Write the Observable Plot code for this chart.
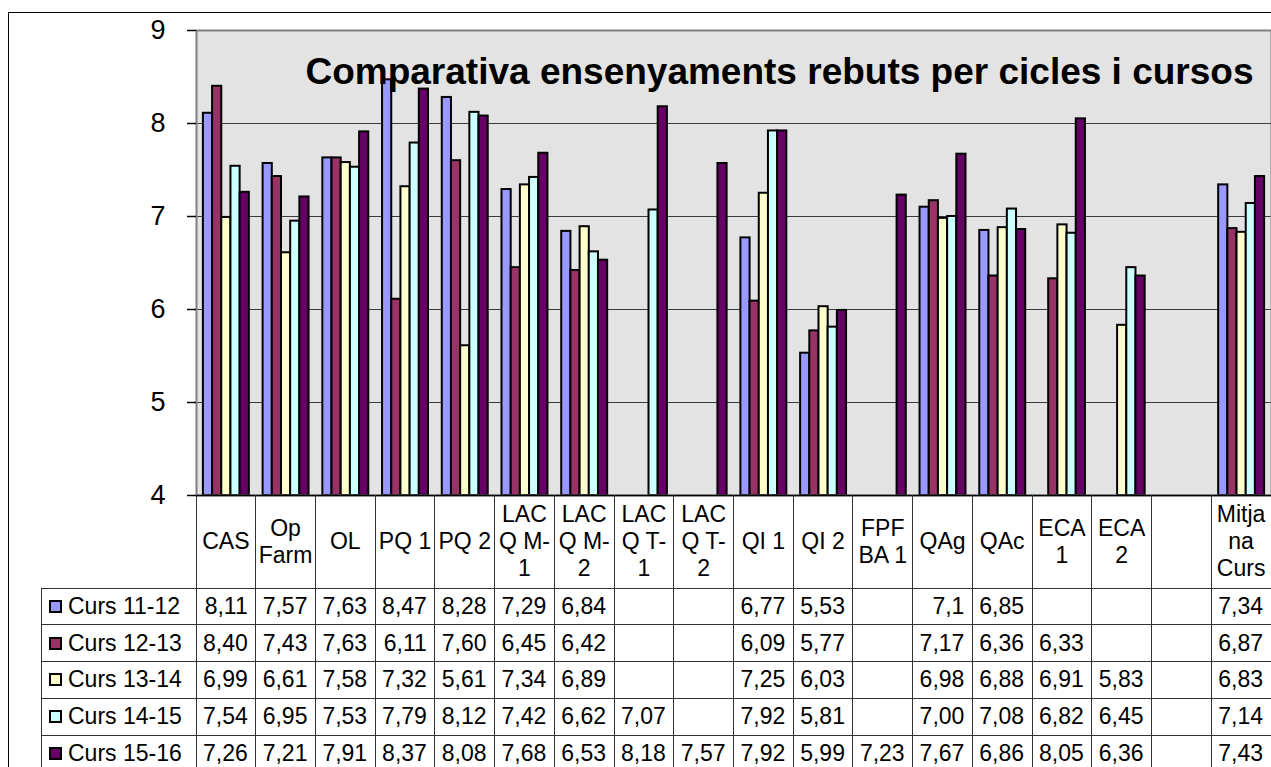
<!DOCTYPE html>
<html>
<head>
<meta charset="utf-8">
<script src="https://cdn.jsdelivr.net/npm/d3@7"></script>
<script src="https://cdn.jsdelivr.net/npm/@observablehq/plot@0.6"></script>
<style>
  html, body { margin: 0; padding: 0; background: #fff; }
  body { font-family: Arial, "Liberation Sans", sans-serif; }
  #wrap { position: relative; width: 1271px; height: 767px; overflow: hidden; }
  #border { position: absolute; left: 8px; top: 12px; width: 1400px; height: 900px;
            border-left: 1px solid #000; border-top: 1px solid #000; }
  #chart { position: absolute; left: 0; top: 0; }
  .ln { position: absolute; background: #333; }
  .cell { position: absolute; display: flex; font-size: 23px; color: #000; box-sizing: border-box; white-space: nowrap; }
  .hdr { align-items: center; justify-content: center; text-align: center; white-space: pre-line; line-height: 27px; }
  .val { align-items: center; justify-content: flex-end; padding-right: 8px; }
  .lab { align-items: center; justify-content: flex-start; padding-left: 8px; }
  .sw { display: inline-block; width: 9px; height: 9px; border: 2px solid #000; margin-right: 6px; }
</style>
</head>
<body>
<div id="wrap">
  <div id="border"></div>
  <div id="chart"></div>
  <div id="table"></div>
</div>
<script>
// ---- data ----
const categories = ["CAS", "Op Farm", "OL", "PQ 1", "PQ 2", "LACQ M-1", "LACQ M-2", "LACQ T-1", "LACQ T-2",
  "QI 1", "QI 2", "FPFBA 1", "QAg", "QAc", "ECA 1", "ECA 2", " ", "Mitjana Curs"];
const headerLabels = ["CAS", "Op\nFarm", "OL", "PQ 1", "PQ 2", "LAC\nQ M-\n1", "LAC\nQ M-\n2", "LAC\nQ T-\n1", "LAC\nQ T-\n2",
  "QI 1", "QI 2", "FPF\nBA 1", "QAg", "QAc", "ECA\n1", "ECA\n2", "", "Mitja\nna\nCurs"];
const series = ["Curs 11-12", "Curs 12-13", "Curs 13-14", "Curs 14-15", "Curs 15-16"];
const colors = ["#9999ff", "#993366", "#ffffcc", "#ccffff", "#660066"];

const curs1112 = ["8,11","7,57","7,63","8,47","8,28","7,29","6,84","","","6,77","5,53","","7,1","6,85","","","","7,34"];
const curs1213 = ["8,40","7,43","7,63","6,11","7,60","6,45","6,42","","","6,09","5,77","","7,17","6,36","6,33","","","6,87"];
const curs1314 = ["6,99","6,61","7,58","7,32","5,61","7,34","6,89","","","7,25","6,03","","6,98","6,88","6,91","5,83","","6,83"];
const curs1415 = ["7,54","6,95","7,53","7,79","8,12","7,42","6,62","7,07","","7,92","5,81","","7,00","7,08","6,82","6,45","","7,14"];
const curs1516 = ["7,26","7,21","7,91","8,37","8,08","7,68","6,53","8,18","7,57","7,92","5,99","7,23","7,67","6,86","8,05","6,36","","7,43"];
const seriesValues = [curs1112, curs1213, curs1314, curs1415, curs1516];

const yTicks = [4, 5, 6, 7, 8, 9];
const title = "Comparativa ensenyaments rebuts per cicles i cursos";

// ---- build table for the library ----
const rows = [];
seriesValues.forEach((arr, s) => arr.forEach((t, c) => {
  if (t !== "") rows.push({cat: categories[c], s, v: +t.replace(",", ".")});
}));

const W = 1271, ML = 196, MR = 0, MT = 30, PLOT_BOTTOM = 495;
const bw = (W - ML - MR) / categories.length;
const group = bw / 1.3;
const pad = (bw - group) / 2;
const barW = group / series.length;

const plot = Plot.plot({
  width: W, height: PLOT_BOTTOM + 1,
  marginLeft: ML, marginRight: MR, marginTop: MT, marginBottom: 1,
  style: {background: "transparent", fontFamily: "Arial, 'Liberation Sans', sans-serif", overflow: "visible", color: "#000"},
  x: {domain: categories, paddingInner: 0, paddingOuter: 0, round: false, axis: null},
  y: {domain: [4, 9], axis: null, label: null},
  marks: [
    Plot.frame({fill: "#e3e3e3"}),
    Plot.gridY(yTicks.slice(1, -1), {stroke: "#3a3a3a", strokeOpacity: 1, strokeWidth: 1}),
    ...series.map((name, i) => Plot.barY(rows.filter(d => d.s === i), {
      x: "cat", y1: 4, y2: "v", fill: colors[i], stroke: "#000", strokeWidth: 2,
      insetLeft: pad + i * barW, insetRight: bw - pad - (i + 1) * barW
    })),
    Plot.frame({stroke: "#808080", strokeWidth: 2}),
    Plot.ruleY([4], {stroke: "#000", strokeWidth: 1.5}),
    Plot.axisY(yTicks, {tickSize: 9, tickPadding: 22, fontSize: 27, stroke: "#000", strokeWidth: 1.5,
      label: null, tickFormat: d => String(d)}),
    Plot.text([title], {frameAnchor: "top-right", textAnchor: "end", lineAnchor: "bottom",
      dx: -18, dy: 53, fontSize: 37, fontWeight: "bold", fill: "#000"})
  ]
});
document.getElementById("chart").appendChild(plot);

// ---- data table below the chart, aligned to the x scale ----
const xs = plot.scale("x");
const ys = plot.scale("y");
const tTop = ys.apply(4);
const band = xs.bandwidth;
const labelLeft = 41;
const headerH = 93;
const rowH = 36.75;
const tbl = document.getElementById("table");
function add(cls, style, html) {
  const d = document.createElement("div");
  d.className = cls;
  Object.assign(d.style, style);
  if (html !== undefined) d.innerHTML = html;
  tbl.appendChild(d);
  return d;
}
const bottom = 767;
// vertical lines
for (let k = 0; k <= categories.length; k++) {
  const x = k < categories.length ? xs.apply(categories[k]) : xs.apply(categories[k - 1]) + band;
  add("ln", {left: (x - 0.5) + "px", top: tTop + "px", width: "1px", height: (bottom - tTop) + "px"});
}
add("ln", {left: (labelLeft - 0.5) + "px", top: (tTop + headerH) + "px", width: "1px", height: (bottom - tTop - headerH) + "px"});
// horizontal lines
for (let r = 0; r <= series.length; r++) {
  const y = tTop + headerH + r * rowH;
  add("ln", {left: labelLeft + "px", top: (y - 0.5) + "px", width: (W - labelLeft) + "px", height: "1px"});
}
// header
categories.forEach((c, i) => {
  const d = add("cell hdr", {left: xs.apply(c) + "px", top: tTop + "px", width: band + "px", height: headerH + "px"});
  d.textContent = headerLabels[i];
});
// rows
series.forEach((name, s) => {
  const y = tTop + headerH + s * rowH;
  const lab = add("cell lab", {left: labelLeft + "px", top: y + "px", width: (ML - labelLeft) + "px", height: rowH + "px"});
  const sw = document.createElement("span");
  sw.className = "sw"; sw.style.background = colors[s];
  lab.appendChild(sw);
  lab.appendChild(document.createTextNode(name));
  seriesValues[s].forEach((t, c) => {
    const d = add("cell val", {left: xs.apply(categories[c]) + "px", top: y + "px", width: band + "px", height: rowH + "px"});
    d.textContent = t;
  });
});
</script>
</body>
</html>
